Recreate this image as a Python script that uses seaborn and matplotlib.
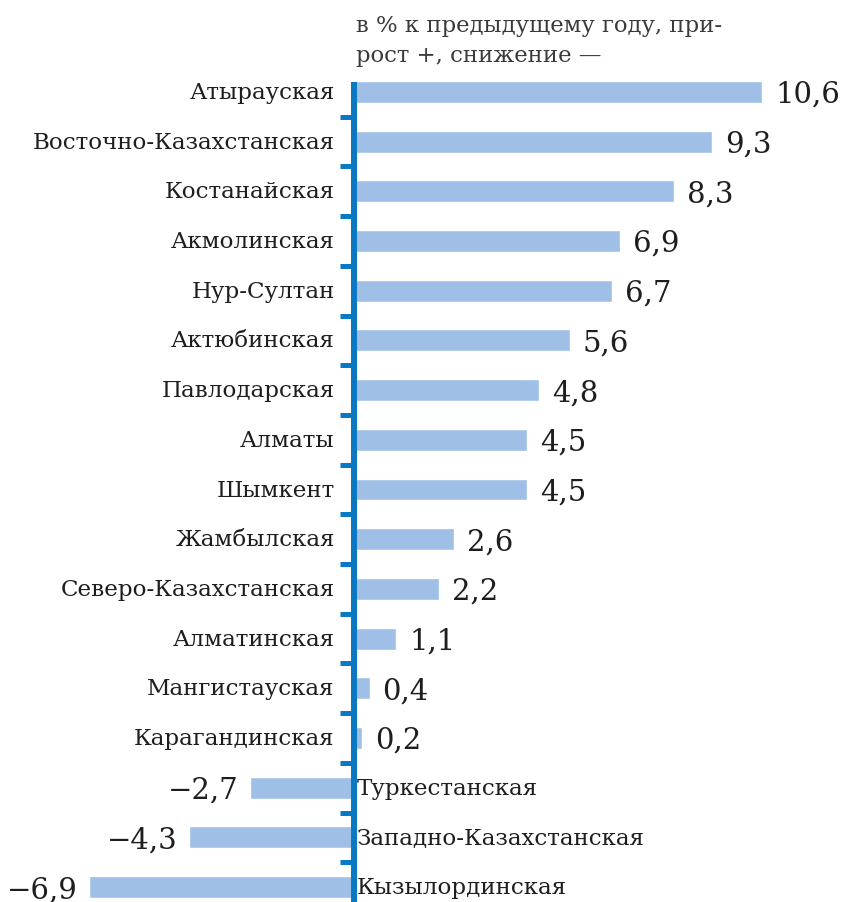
import matplotlib
matplotlib.use("Agg")
import matplotlib.pyplot as plt
import seaborn as sns
import pandas as pd

# Data
regions = [
    "Атырауская", "Восточно-Казахстанская", "Костанайская", "Акмолинская",
    "Нур-Султан", "Актюбинская", "Павлодарская", "Алматы", "Шымкент",
    "Жамбылская", "Северо-Казахстанская", "Алматинская", "Мангистауская",
    "Карагандинская", "Туркестанская", "Западно-Казахстанская", "Кызылординская",
]
growth = [10.6, 9.3, 8.3, 6.9, 6.7, 5.6, 4.8, 4.5, 4.5,
          2.6, 2.2, 1.1, 0.4, 0.2, -2.7, -4.3, -6.9]
title_text = "в % к предыдущему году, при-\nрост +, снижение —"

BAR_COLOR = "#a0bfe6"
AXIS_COLOR = "#0a78c2"
TEXT_COLOR = "#1e1e1e"

df = pd.DataFrame({"region": regions, "growth": growth})

sns.set_theme(style="white")
plt.rcParams["font.family"] = ["DejaVu Serif", "DejaVu Sans"]

fig = plt.figure(figsize=(8.41, 9.03), dpi=100)
ax = fig.add_axes([0, 0, 1, 1])

sns.barplot(data=df, x="growth", y="region", orient="h", color=BAR_COLOR,
            width=0.44, saturation=1, ax=ax)

# layout in data units
y_bottom, y_top = 16.3, -1.87
ax.set_xlim(-9.2, 12.65)
ax.set_ylim(y_bottom, y_top)
ax.axis("off")

# vertical zero axis with small ticks between rows
ax.axvline(0, ymin=0, ymax=(y_bottom + 0.2) / (y_bottom - y_top),
           color=AXIS_COLOR, lw=4.3, zorder=5, solid_capstyle="butt")
for i in range(len(regions) - 1):
    ax.plot([-0.37, 0], [i + 0.5, i + 0.5], color=AXIS_COLOR, lw=3.6,
            solid_capstyle="butt", zorder=5)

for i, (name, v) in enumerate(zip(regions, growth)):
    label = f"{abs(v):.1f}".replace(".", ",")
    if v >= 0:
        ax.text(-0.5, i, name, ha="right", va="center", fontsize=16.6,
                color=TEXT_COLOR)
        ax.text(v + 0.34, i + 0.04, label, ha="left", va="center", fontsize=21,
                color=TEXT_COLOR)
    else:
        ax.text(0.08, i, name, ha="left", va="center", fontsize=16.6,
                color=TEXT_COLOR)
        ax.text(v - 0.29, i + 0.04, "−" + label, ha="right", va="center",
                fontsize=21, color=TEXT_COLOR)

ax.text(0.05, -1.05, title_text, ha="left", va="center", fontsize=16.4,
        color="#3a3a3a", linespacing=1.45)

fig.savefig("out.png", dpi=100)
